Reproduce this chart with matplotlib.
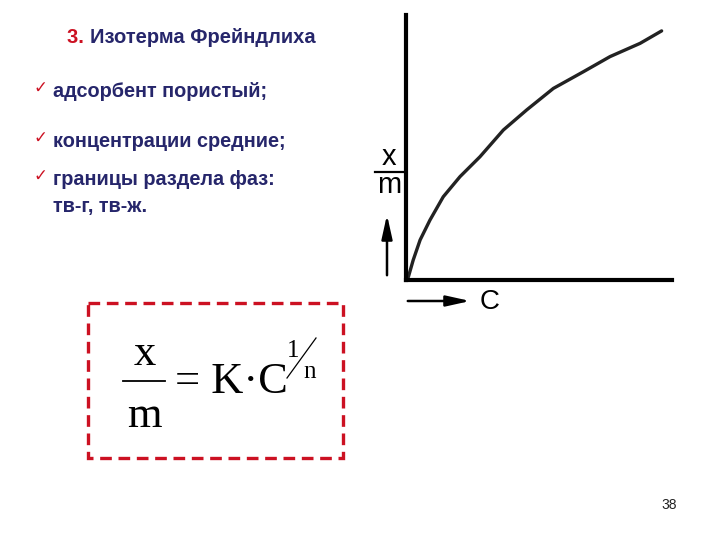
import matplotlib.pyplot as plt
from matplotlib.patches import Rectangle

# ---- data ----
conc = [0.0, 0.09, 0.27, 0.53, 0.90, 1.40, 2.03, 2.78, 3.66, 4.54, 5.54, 6.67, 7.67, 8.80, 9.61]
adsorbed = [0.0, 0.12, 0.75, 1.51, 2.26, 3.14, 3.90, 4.65, 5.66, 6.42, 7.23, 7.86, 8.43, 8.93, 9.40]

title_num = "3."
title_text = "Изотерма Фрейндлиха"
bullets = ["адсорбент пористый;", "концентрации средние;", "границы раздела фаз:"]
bullet_tail = "тв-г, тв-ж."
page_num = "38"

NAVY = "#26266b"
RED = "#cc1122"

fig = plt.figure(figsize=(7.2, 5.4), dpi=100)

# ---- isotherm sketch ----
ax = fig.add_axes([406 / 720, 1 - 280 / 540, 266 / 720, 265 / 540])
ax.plot(conc, adsorbed, color="#222222", lw=2.4, solid_capstyle="round",
        solid_joinstyle="round")
ax.set_xlim(0, 10)
ax.set_ylim(0, 10)
ax.set_xticks([])
ax.set_yticks([])
for side in ["top", "right"]:
    ax.spines[side].set_visible(False)
for side in ["left", "bottom"]:
    ax.spines[side].set_linewidth(3)

# ---- overlay in pixel coordinates for slide text ----
ov = fig.add_axes([0, 0, 1, 1])
ov.set_xlim(0, 720)
ov.set_ylim(540, 0)
ov.axis("off")

sans = "Liberation Sans"
serif = "Liberation Serif"

t = ov.text(67, 42.7, title_num + " ", color=RED, fontsize=14.5, fontweight="bold",
            family=sans, va="baseline")
ov.annotate(title_text, xycoords=t, xy=(1, 0), va="bottom", color=NAVY,
            fontsize=14.5, fontweight="bold", family=sans)

baselines = [96.7, 146.7, 185]
for y, line in zip(baselines, bullets):
    ov.text(34, y - 4, "\u2713", color=RED, fontsize=12, family="DejaVu Sans",
            va="baseline")
    ov.text(53, y, line, color=NAVY, fontsize=14.3, fontweight="bold",
            family=sans, va="baseline")
ov.text(53, 211.7, bullet_tail, color=NAVY, fontsize=14.3, fontweight="bold",
        family=sans, va="baseline")

# axis labels and arrows of the sketch
ov.text(389, 165, "x", fontsize=21, family=sans, ha="center", va="baseline")
ov.plot([375, 403], [172.3, 172.3], color="black", lw=1.6)
ov.text(389, 193.3, "m", fontsize=21, family=sans, ha="center", va="baseline")
ov.annotate("", xy=(387, 212), xytext=(387, 278),
            arrowprops=dict(arrowstyle="-|>,head_length=0.9,head_width=0.2",
                            lw=1.8, color="black", mutation_scale=16))
ov.annotate("", xy=(473, 301), xytext=(405, 301),
            arrowprops=dict(arrowstyle="-|>,head_length=0.9,head_width=0.2",
                            lw=1.8, color="black", mutation_scale=16))
ov.text(490, 302, "C", fontsize=20, family=sans, ha="center", va="center")

# formula box
ov.add_patch(Rectangle((88, 303), 255, 155, fill=False, edgecolor=RED, lw=2.4,
                       linestyle=(0, (3.5, 2))))
ov.text(145, 365, "x", fontsize=32, family=serif, ha="center", va="baseline")
ov.plot([123, 165], [381, 381], color="black", lw=1.3)
ov.text(144, 426.7, "m", fontsize=32, family=serif, ha="center", va="baseline")
ov.text(175, 393.3, "= K\u00b7C", fontsize=32, family=serif, va="baseline")
ov.text(293, 357, "1", fontsize=18, family=serif, ha="center", va="baseline")
ov.plot([287, 316], [378, 338], color="black", lw=0.9)
ov.text(310, 378, "n", fontsize=18, family=serif, ha="center", va="baseline")

ov.text(669, 505, page_num, fontsize=10, family=sans, ha="center", va="center",
        color="#222222")

fig.savefig("out.png", dpi=100)
